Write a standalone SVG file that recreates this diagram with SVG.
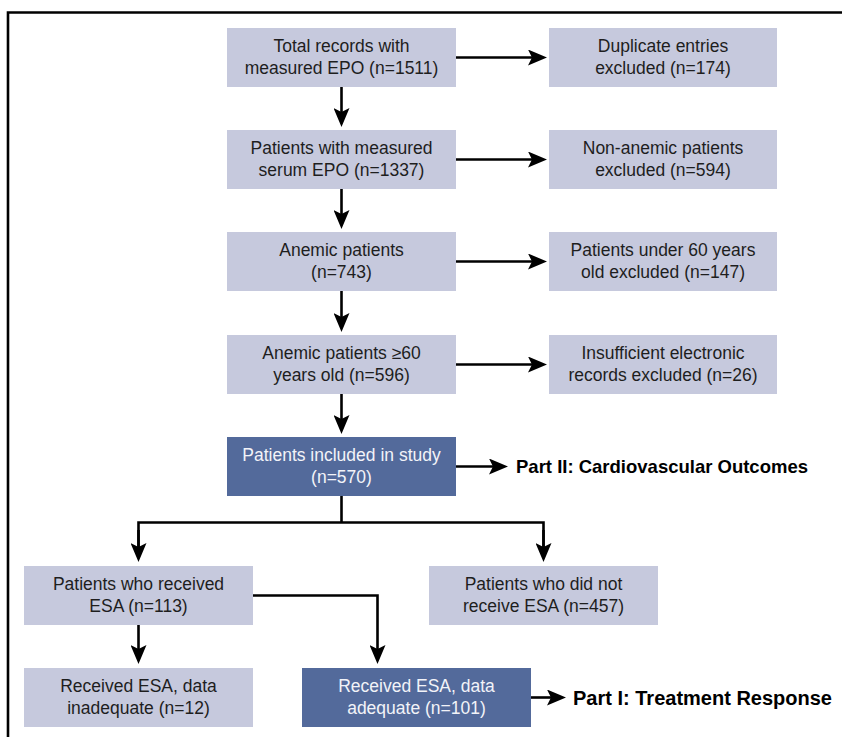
<svg xmlns="http://www.w3.org/2000/svg" width="842" height="737" viewBox="0 0 842 737">
<style>
.lt{fill:#c6c9dd}
.dk{fill:#536a9b}
.t{font-family:"Liberation Sans",Arial,sans-serif;font-size:17.5px;fill:#1e1e1e;text-anchor:middle}
.tw{font-family:"Liberation Sans",Arial,sans-serif;font-size:17.5px;fill:#f2f3f8;text-anchor:middle}
.b{font-family:"Liberation Sans",Arial,sans-serif;font-size:18.5px;font-weight:bold;fill:#000}
.c{fill:none;stroke:#000;stroke-width:2.6}
</style>
<defs>
<marker id="ah" markerUnits="userSpaceOnUse" markerWidth="20" markerHeight="16" refX="5" refY="8" orient="auto">
<path d="M0,0 L19,8 L0,16 L4,8 z" fill="#000"/>
</marker>
</defs>
<rect width="842" height="737" fill="#fff"/>
<path d="M8,737 V12.5 H842" fill="none" stroke="#000" stroke-width="2.6"/>

<g id="n1"><rect class="lt" x="227" y="28" width="229" height="59"/><text class="t" x="341.5" y="52">Total records with</text><text class="t" x="341.5" y="74">measured EPO (n=1511)</text></g>
<g id="n2"><rect class="lt" x="549" y="28" width="228" height="59"/><text class="t" x="663" y="52">Duplicate entries</text><text class="t" x="663" y="74">excluded (n=174)</text></g>
<g id="n3"><rect class="lt" x="227" y="130" width="229" height="59"/><text class="t" x="341.5" y="154">Patients with measured</text><text class="t" x="341.5" y="176">serum EPO (n=1337)</text></g>
<g id="n4"><rect class="lt" x="549" y="130" width="228" height="59"/><text class="t" x="663" y="154">Non-anemic patients</text><text class="t" x="663" y="176">excluded (n=594)</text></g>
<g id="n5"><rect class="lt" x="227" y="232" width="229" height="59"/><text class="t" x="341.5" y="256">Anemic patients</text><text class="t" x="341.5" y="278">(n=743)</text></g>
<g id="n6"><rect class="lt" x="549" y="232" width="228" height="59"/><text class="t" x="663" y="256">Patients under 60 years</text><text class="t" x="663" y="278">old excluded (n=147)</text></g>
<g id="n7"><rect class="lt" x="227" y="335" width="229" height="59"/><text class="t" x="341.5" y="359">Anemic patients ≥60</text><text class="t" x="341.5" y="381">years old (n=596)</text></g>
<g id="n8"><rect class="lt" x="549" y="335" width="228" height="59"/><text class="t" x="663" y="359">Insufficient electronic</text><text class="t" x="663" y="381">records excluded (n=26)</text></g>
<g id="n9"><rect class="dk" x="227" y="437" width="229" height="59"/><text class="tw" x="341.5" y="461">Patients included in study</text><text class="tw" x="341.5" y="483">(n=570)</text></g>
<g id="n10"><text class="b" x="516" y="473">Part II: Cardiovascular Outcomes</text></g>
<g id="n11"><rect class="lt" x="24" y="566" width="229" height="59"/><text class="t" x="138.5" y="590">Patients who received</text><text class="t" x="138.5" y="612">ESA (n=113)</text></g>
<g id="n12"><rect class="lt" x="429" y="566" width="229" height="59"/><text class="t" x="543.5" y="590">Patients who did not</text><text class="t" x="543.5" y="612">receive ESA (n=457)</text></g>
<g id="n13"><rect class="lt" x="24" y="668" width="229" height="59"/><text class="t" x="138.5" y="692">Received ESA, data</text><text class="t" x="138.5" y="714">inadequate (n=12)</text></g>
<g id="n14"><rect class="dk" x="302" y="668" width="229" height="59"/><text class="tw" x="416.5" y="692">Received ESA, data</text><text class="tw" x="416.5" y="714">adequate (n=101)</text></g>
<g id="n15"><text class="b" x="573" y="704.5" style="font-size:20px">Part I: Treatment Response</text></g>

<g id="connectors">
<path class="c" d="M456,57.5 H533" marker-end="url(#ah)"/>
<path class="c" d="M456,159.5 H533" marker-end="url(#ah)"/>
<path class="c" d="M456,261.5 H533" marker-end="url(#ah)"/>
<path class="c" d="M456,364.5 H533" marker-end="url(#ah)"/>
<path class="c" d="M341.5,87 V113" marker-end="url(#ah)"/>
<path class="c" d="M341.5,189 V215" marker-end="url(#ah)"/>
<path class="c" d="M341.5,291 V318" marker-end="url(#ah)"/>
<path class="c" d="M341.5,394 V420" marker-end="url(#ah)"/>
<path class="c" d="M456,466.5 H494" marker-end="url(#ah)"/>
<path class="c" d="M341.5,496 V522.5"/>
<path class="c" d="M138.5,548 V522.5 H543.5 V548" />
<path class="c" d="M138.5,530 V548" marker-end="url(#ah)"/>
<path class="c" d="M543.5,530 V548" marker-end="url(#ah)"/>
<path class="c" d="M253,595.5 H377.5 V650" marker-end="url(#ah)"/>
<path class="c" d="M138.5,625 V650" marker-end="url(#ah)"/>
<path class="c" d="M531,697.5 H552" marker-end="url(#ah)"/>
</g>
</svg>
